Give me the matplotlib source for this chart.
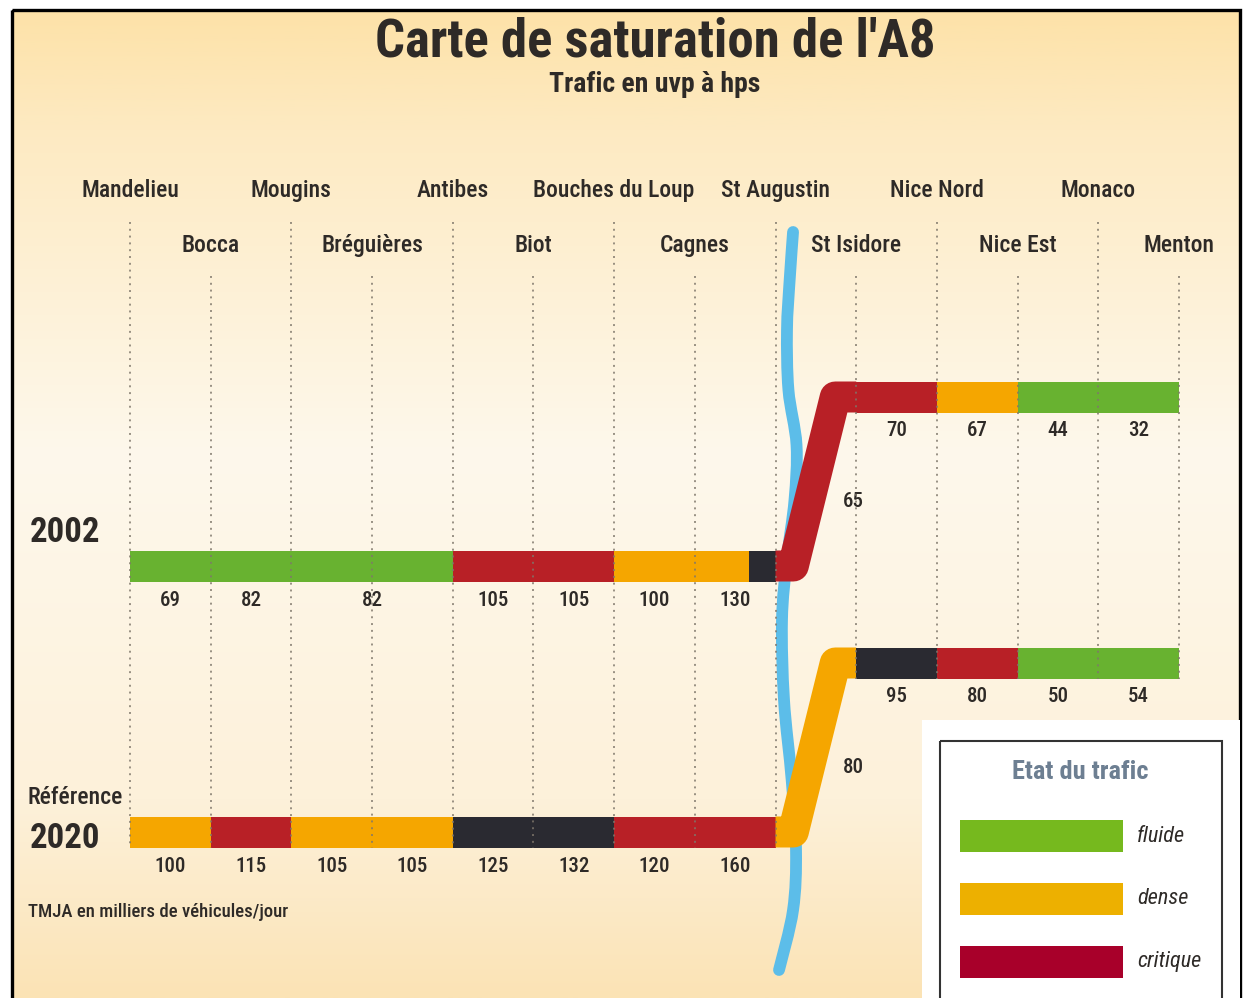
import numpy as np
import matplotlib.pyplot as plt
from matplotlib import font_manager as fm
from matplotlib.patches import Rectangle, PathPatch
from matplotlib.path import Path

# --- data -------------------------------------------------------------
echangeurs = ['Mandelieu', 'Bocca', 'Mougins', 'Bréguières', 'Antibes', 'Biot',
              'Bouches du Loup', 'Cagnes', 'St Augustin', 'St Isidore',
              'Nice Nord', 'Nice Est', 'Monaco', 'Menton']

# 2002, west of the Var
tmja_2002_ouest_bornes = [0, 1, 2, 4, 5, 6, 7, 8]
tmja_2002_ouest = [69, 82, 82, 105, 105, 100, 130]
etat_2002_ouest_bornes = [0, 4, 6, 7.67, 8]
etat_2002_ouest = ['fluide', 'critique', 'dense', 'sature']
# 2002, Var crossing + east
tmja_2002_var = 65
etat_2002_var = 'critique'
tmja_2002_est_bornes = [9, 10, 11, 12, 13]
tmja_2002_est = [70, 67, 44, 32]
etat_2002_est = ['critique', 'dense', 'fluide', 'fluide']

# 2020 reference
tmja_2020_ouest_bornes = [0, 1, 2, 3, 4, 5, 6, 7, 8]
tmja_2020_ouest = [100, 115, 105, 105, 125, 132, 120, 160]
etat_2020_ouest = ['dense', 'critique', 'dense', 'dense', 'sature', 'sature',
                   'critique', 'critique']
tmja_2020_var = 80
etat_2020_var = 'dense'
tmja_2020_est_bornes = [9, 10, 11, 12, 13]
tmja_2020_est = [95, 80, 50, 54]
etat_2020_est = ['sature', 'critique', 'fluide', 'fluide']

legende = ['fluide', 'dense', 'critique']

couleurs = {'fluide': '#68b230', 'dense': '#f5a600', 'critique': '#b82026',
            'sature': '#2a2a31'}
couleurs_legende = {'fluide': '#76b91e', 'dense': '#edb000', 'critique': '#a8002a'}

# --- fonts ------------------------------------------------------------
noms = {f.name for f in fm.fontManager.ttflist}
COND = next((n for n in ['Roboto Condensed', 'Liberation Sans Narrow',
                         'DejaVu Sans Condensed', 'Open Sans Condensed']
             if n in noms), 'Lato')
plt.rcParams['font.family'] = [COND, 'DejaVu Sans']
INK = '#2e2a27'

# --- figure -----------------------------------------------------------
W, H = 1247, 998
X0, DX = 130, (1179 - 130) / 13
BAR_H = 31

fig = plt.figure(figsize=(W / 100, H / 100), dpi=100)
fig.patch.set_facecolor('white')

bg = fig.add_axes([0, 0, 1, 1], zorder=0)
stops_y = [0, 0.12, 0.45, 0.8, 1]
stops_c = ['#fde2a8', '#fdeac2', '#fef8ec', '#fdf1da', '#fbe3b5']
rgb = np.array([[int(c[i:i + 2], 16) / 255 for i in (1, 3, 5)] for c in stops_c])
t = np.linspace(0, 1, 400)
img = np.stack([np.interp(t, stops_y, rgb[:, k]) for k in range(3)], axis=1)[:, None, :]
bg.imshow(img, extent=(12, 1240, 998, 10), aspect='auto', interpolation='bilinear')
bg.add_patch(Rectangle((12, 10), 1228, 1010, fill=False, ec='black', lw=2.4))
bg.set_xlim(0, W)
bg.set_ylim(H, 0)
bg.axis('off')

ax = fig.add_axes([0, 0, 1, 1], zorder=1)
ax.set_xlim(-X0 / DX, (W - X0) / DX)
ax.set_ylim(H, 0)
ax.axis('off')

top = fig.add_axes([0, 0, 1, 1], zorder=2)
top.set_xlim(0, W)
top.set_ylim(H, 0)
top.axis('off')

# row heights (pixels)
Y_2002_O, Y_2002_E = 566, 397
Y_2020_O, Y_2020_E = 832, 663

# river Var (smooth curve through the traced points)
var_x = [8.217, 8.175, 8.142, 8.16, 8.26, 8.235, 8.14, 8.08, 8.105, 8.2,
         8.254, 8.217, 8.043]
var_y = [232, 280, 330, 390, 445, 500, 560, 620, 700, 780, 850, 910, 970]
pts = np.column_stack([var_x, var_y])
verts, codes = [pts[0]], [Path.MOVETO]
for k in range(len(pts) - 1):
    p0 = pts[max(k - 1, 0)]
    p1, p2 = pts[k], pts[k + 1]
    p3 = pts[min(k + 2, len(pts) - 1)]
    verts += [p1 + (p2 - p0) / 6, p2 - (p3 - p1) / 6, p2]
    codes += [Path.CURVE4] * 3
ax.add_patch(PathPatch(Path(verts, codes), fc='none', ec='#5cbde9', lw=8.5,
                       capstyle='round', joinstyle='round', zorder=2))

# interchange names and dotted guides
for i, nom in enumerate(echangeurs):
    haut = i % 2 == 0
    ax.text(i, 190 if haut else 245, nom, ha='center', va='center',
            fontsize=17, fontweight='medium', color=INK)
    y_bas = Y_2020_O + BAR_H / 2 if i <= 8 else Y_2020_E + BAR_H / 2
    ax.plot([i, i], [222 if haut else 276, y_bas], color='#7f776b', lw=1.4,
            dashes=(1, 2.5), alpha=0.8, zorder=4)


def barre(bornes, etats, yc):
    bornes = np.array(bornes, dtype=float)
    ax.barh(yc, np.diff(bornes), left=bornes[:-1], height=BAR_H,
            color=[couleurs[e] for e in etats], linewidth=0, zorder=3)


def valeurs(bornes, vals, y):
    bornes = np.array(bornes, dtype=float)
    for xc, v in zip((bornes[:-1] + bornes[1:]) / 2, vals):
        ax.text(xc, y, str(v), ha='center', va='center', fontsize=15,
                fontweight='medium', color=INK)


def passage_var(etat, v, y_o, y_e):
    ax.plot([8, 8.22, 8.74, 9], [y_o, y_o, y_e, y_e], color=couleurs[etat],
            lw=BAR_H * 0.72, solid_joinstyle='round', solid_capstyle='butt',
            zorder=3)
    ax.text(8.97, (y_o + y_e) / 2 + 20, str(v), ha='center', va='center',
            fontsize=15, fontweight='medium', color=INK)


barre(etat_2002_ouest_bornes, etat_2002_ouest, Y_2002_O)
valeurs(tmja_2002_ouest_bornes, tmja_2002_ouest, Y_2002_O + 34)
passage_var(etat_2002_var, tmja_2002_var, Y_2002_O, Y_2002_E)
barre(tmja_2002_est_bornes, etat_2002_est, Y_2002_E)
valeurs(tmja_2002_est_bornes, tmja_2002_est, Y_2002_E + 34)

barre(tmja_2020_ouest_bornes, etat_2020_ouest, Y_2020_O)
valeurs(tmja_2020_ouest_bornes, tmja_2020_ouest, Y_2020_O + 34)
passage_var(etat_2020_var, tmja_2020_var, Y_2020_O, Y_2020_E)
barre(tmja_2020_est_bornes, etat_2020_est, Y_2020_E)
valeurs(tmja_2020_est_bornes, tmja_2020_est, Y_2020_E + 34)

# titles and row labels
top.text(655, 42, "Carte de saturation de l'A8", ha='center', va='center',
         fontsize=38, fontweight='bold', color=INK)
top.text(655, 84, 'Trafic en uvp à hps', ha='center', va='center',
         fontsize=20, fontweight='bold', color=INK)
top.text(65, 533, '2002', ha='center', va='center', fontsize=25,
         fontweight='bold', color=INK)
top.text(75, 798, 'Référence', ha='center', va='center', fontsize=17,
         fontweight='medium', color=INK)
top.text(65, 838, '2020', ha='center', va='center', fontsize=25,
         fontweight='bold', color=INK)
top.text(28, 912, 'TMJA en milliers de véhicules/jour', ha='left', va='center',
         fontsize=13.5, fontweight='medium', color=INK)

# legend
top.add_patch(Rectangle((922, 720), 318, 300, fc='white', ec='none'))
top.add_patch(Rectangle((940, 741), 282, 300, fc='none', ec='#333333', lw=1.5))
top.text(1080, 772, 'Etat du trafic', ha='center', va='center', fontsize=19,
         fontweight='bold', color='#6d7f92')
for k, etat in enumerate(legende):
    yc = 836 + k * 63
    top.add_patch(Rectangle((960, yc - 16), 163, 32, fc=couleurs_legende[etat],
                            ec='none'))
    top.text(1137, yc, etat, ha='left', va='center', fontsize=16,
             fontstyle='italic', color=INK)

fig.savefig('out.png', dpi=100)
